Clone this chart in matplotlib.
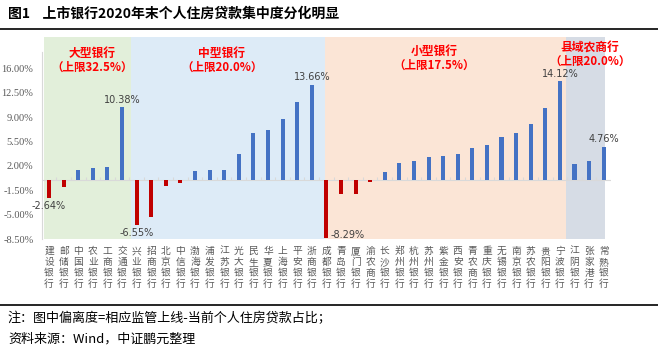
import matplotlib
matplotlib.use("Agg")
import matplotlib.pyplot as plt
from matplotlib.lines import Line2D

plt.rcParams['font.family'] = ['Noto Sans CJK SC', 'DejaVu Sans']

# data
banks = ['建设银行', '邮储银行', '中国银行', '农业银行', '工商银行', '交通银行',
         '兴业银行', '招商银行', '北京银行', '中信银行', '渤海银行', '浦发银行', '江苏银行',
         '光大银行', '民生银行', '华夏银行', '上海银行', '平安银行', '浙商银行',
         '成都银行', '青岛银行', '厦门银行', '渝农商行', '长沙银行', '郑州银行', '杭州银行',
         '苏州银行', '紫金银行', '西安银行', '青农商行', '重庆银行', '无锡银行', '南京银行',
         '苏农银行', '贵阳银行', '宁波银行',
         '江阴银行', '张家港行', '常熟银行']
deviation = [-2.64, -1.05, 1.44, 1.73, 1.87, 10.38,
             -6.55, -5.27, -0.86, -0.43, 1.25, 1.34, 1.44,
             3.64, 6.66, 7.19, 8.78, 11.12, 13.66,
             -8.29, -2.01, -1.97, -0.34, 1.15, 2.45, 2.64,
             3.31, 3.45, 3.65, 4.51, 4.94, 6.14, 6.76,
             8.06, 10.31, 14.12,
             2.25, 2.64, 4.76]
labelled = ['建设银行', '交通银行', '兴业银行', '浙商银行', '成都银行', '宁波银行', '常熟银行']

groups = ['大型银行', '中型银行', '小型银行', '县域农商行']
caps = ['（上限32.5%）', '（上限20.0%）', '（上限17.5%）', '（上限20.0%）']
group_spans = [(-0.35, 5.6), (5.6, 18.9), (18.9, 35.4), (35.4, 38.1)]
group_colors = ['#E2EFDA', '#DDEBF7', '#FBE5D6', '#D6DCE5']
yticks = [-8.5, -5.0, -1.5, 2.0, 5.5, 9.0, 12.5, 16.0]

fig = plt.figure(figsize=(6.58, 3.51), dpi=100)
ax = fig.add_axes([0.0634, 0.319, 0.8652, 0.5756])

x = list(range(len(banks)))
ax.set_xlim(-0.5, 38.5)
ax.set_ylim(-8.5, 20.5)

for (a, b), c in zip(group_spans, group_colors):
    ax.axvspan(a, b, ymin=0, ymax=1, color=c, lw=0, zorder=0)

colors = ['#4472C4' if v >= 0 else '#C00000' for v in deviation]
ax.bar(x, deviation, width=0.28, color=colors, zorder=3)

ax.axhline(0, color='#D9D9D9', lw=0.8, zorder=2)
ax.vlines([i + 0.5 for i in x[:-1]], 0, 0.45, color='#D9D9D9', lw=0.8, zorder=2)

for i, (b, v) in enumerate(zip(banks, deviation)):
    if b not in labelled:
        continue
    txt = f'{v:.2f}%'
    if b == '成都银行':
        ax.text(i + 0.25, v + 0.3, txt, ha='left', va='center', fontsize=7,
                color='#404040', family='DejaVu Sans', zorder=4)
    elif v < 0:
        ax.text(i, v - 0.4, txt, ha='center', va='top', fontsize=7,
                color='#404040', family='DejaVu Sans', zorder=4)
    else:
        ax.text(i, v + 0.4, txt, ha='center', va='bottom', fontsize=7,
                color='#404040', family='DejaVu Sans', zorder=4)

label_pos = [(2.98, 18.1, 16.1), (11.85, 18.1, 16.1), (26.4, 18.4, 16.4), (37.05, 19.1, 17.0)]
for g, c, (lx, y1, y2) in zip(groups, caps, label_pos):
    ax.text(lx, y1, g, ha='center', va='center', fontsize=8.5, color='#FF0000',
            fontweight='bold', zorder=4)
    ax.text(lx, y2, c, ha='center', va='center', fontsize=8.3, color='#FF0000',
            fontweight='bold', zorder=4)

ax.set_yticks(yticks)
ax.set_yticklabels([f'{t:.2f}%' for t in yticks], family='Liberation Serif',
                   fontsize=7.5, color='#595959')
ax.set_xticks(x)
ax.set_xticklabels(['\n'.join(b) for b in banks], fontsize=7, color='#595959',
                   linespacing=1.12)
ax.tick_params(axis='x', length=0, pad=5)
ax.tick_params(axis='y', length=0, pad=6)

for s in ['top', 'right', 'bottom']:
    ax.spines[s].set_visible(False)
ax.spines['left'].set_color('#D9D9D9')
ax.spines['left'].set_bounds(-8.5, 18.3)

fig.text(0.012, 0.96, '图1    上市银行2020年末个人住房贷款集中度分化明显', fontsize=10,
         fontweight='bold', va='center', ha='left')
fig.add_artist(Line2D([0, 1], [0.917, 0.917], color='black', lw=1.2))
fig.add_artist(Line2D([0, 1], [0.131, 0.131], color='black', lw=1.2))
fig.text(0.012, 0.094, '注：图中偏离度=相应监管上线-当前个人住房贷款占比；', fontsize=9.4,
         va='center', ha='left')
fig.text(0.012, 0.035, '资料来源：Wind，中证鹏元整理', fontsize=9.4, va='center', ha='left')

fig.savefig('out.png', dpi=100)
